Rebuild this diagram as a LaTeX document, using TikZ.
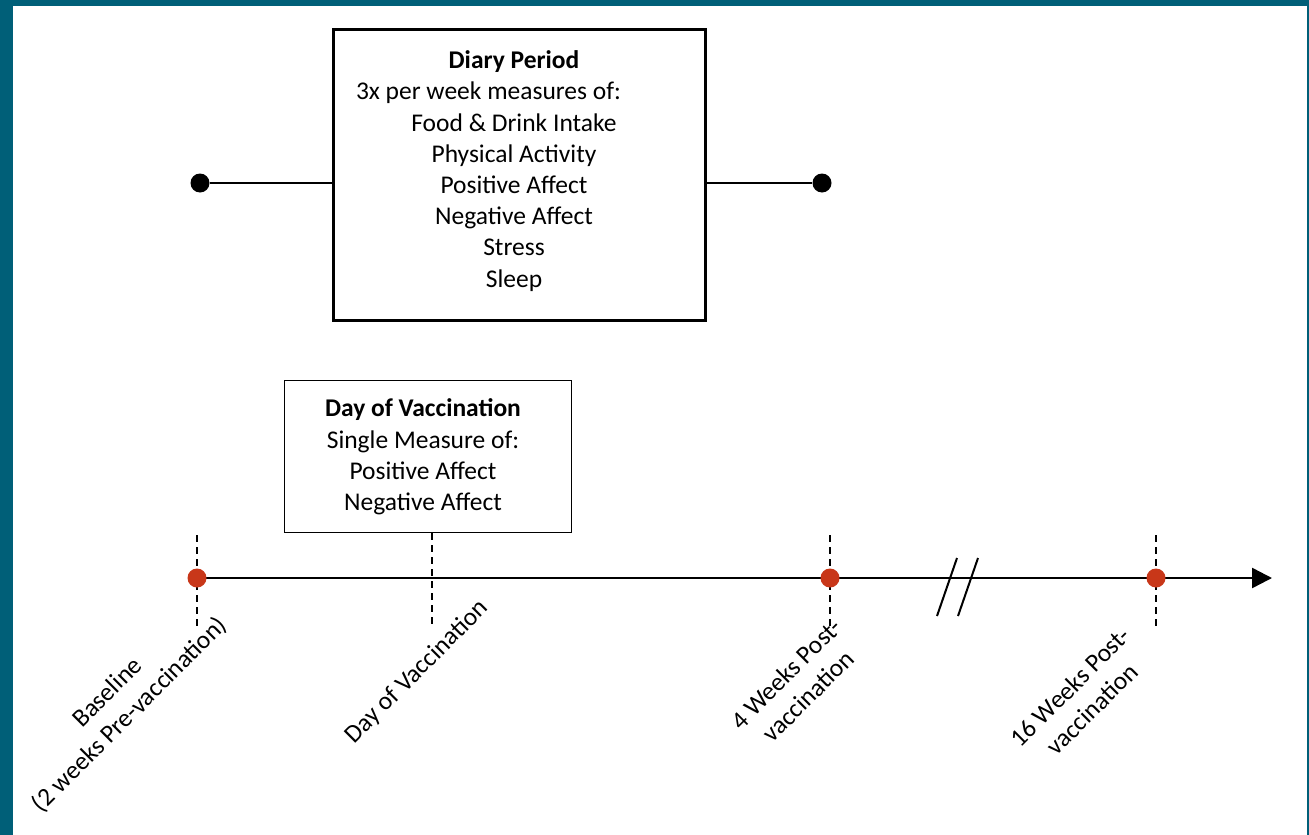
\documentclass[tikz,border=0pt]{standalone}
\usepackage{fontspec}
\setmainfont{Carlito}
\usetikzlibrary{arrows.meta,calc}
\definecolor{frameteal}{RGB}{0,95,120}
\definecolor{dotred}{RGB}{200,55,25}
\tikzset{
  diarybox/.style={draw=black, line width=3pt, inner sep=0pt,
    minimum width=372pt, minimum height=291pt},
  vaccbox/.style={draw=black, line width=1.5pt, inner sep=0pt,
    minimum width=287pt, minimum height=152pt},
  boxtext/.style={align=center, inner sep=0pt},
  blackdot/.style={circle, fill=black, inner sep=0pt, minimum size=19pt},
  reddot/.style={circle, fill=dotred, inner sep=0pt, minimum size=19pt},
  linkline/.style={line width=2pt},
  axisline/.style={line width=2.5pt, -{Triangle[length=20pt,width=20pt]}},
  tickdash/.style={line width=2pt, dash pattern=on 7pt off 5pt},
  breakline/.style={line width=2pt},
  ticklabel/.style={rotate=45, align=center}
}
\begin{document}
\begin{tikzpicture}[x=1pt,y=-1pt,
  every node/.style={font=\fontsize{25.5}{31.2}\selectfont}]
\fill[frameteal] (0,0) rectangle (1309,835);
\fill[white] (13,6) rectangle (1307,835);
\useasboundingbox (0,0) rectangle (1309,835);

% diary period box with its two end points
\node[diarybox] (diary) at (519.5,175) {};
\node[boxtext] (diarytext) at (514,171) {\textbf{Diary Period}\\\makebox[316pt][l]{3x per week measures of:}\\Food \& Drink Intake\\Physical Activity\\Positive Affect\\Negative Affect\\Stress\\Sleep};
\node[blackdot] (dotL) at (200,183) {};
\node[blackdot] (dotR) at (822,183) {};
\draw[linkline] (dotL) -- (dotL -| diary.west);
\draw[linkline] (diary.east |- dotR) -- (dotR);

% day of vaccination box
\node[vaccbox] (vacc) at (428,456.5) {};
\node[boxtext] (vacctext) at (423,457) {\textbf{Day of Vaccination}\\Single Measure of:\\Positive Affect\\Negative Affect};

% timeline
\coordinate (t0) at (197,578);
\coordinate (tv) at (432,578);
\coordinate (t4) at (830,578);
\coordinate (t16) at (1156,578);
\coordinate (tend) at (1272,578);
\draw[axisline] (t0) -- (tend);
\draw[breakline] (957,558) -- (937,616);
\draw[breakline] (978,558) -- (958,616);

\foreach \t in {t0,t4,t16}
  \draw[tickdash] ($(\t)+(0,-43)$) -- ($(\t)+(0,49)$);
\draw[tickdash] (tv |- vacc.south) -- ($(tv)+(0,50)$);

\node[reddot] (d0) at (t0) {};
\node[reddot] (d4) at (t4) {};
\node[reddot] (d16) at (t16) {};

% labels under the timeline
\node[ticklabel] (lab0) at (119,704) {Baseline\\(2 weeks Pre-vaccination)};
\node[ticklabel] (labv) at (417,672) {Day of Vaccination};
\node[ticklabel] (lab4) at (797,685) {4 Weeks Post-\\vaccination};
\node[ticklabel] (lab16) at (1081,698) {16 Weeks Post-\\vaccination};
\end{tikzpicture}
\end{document}
